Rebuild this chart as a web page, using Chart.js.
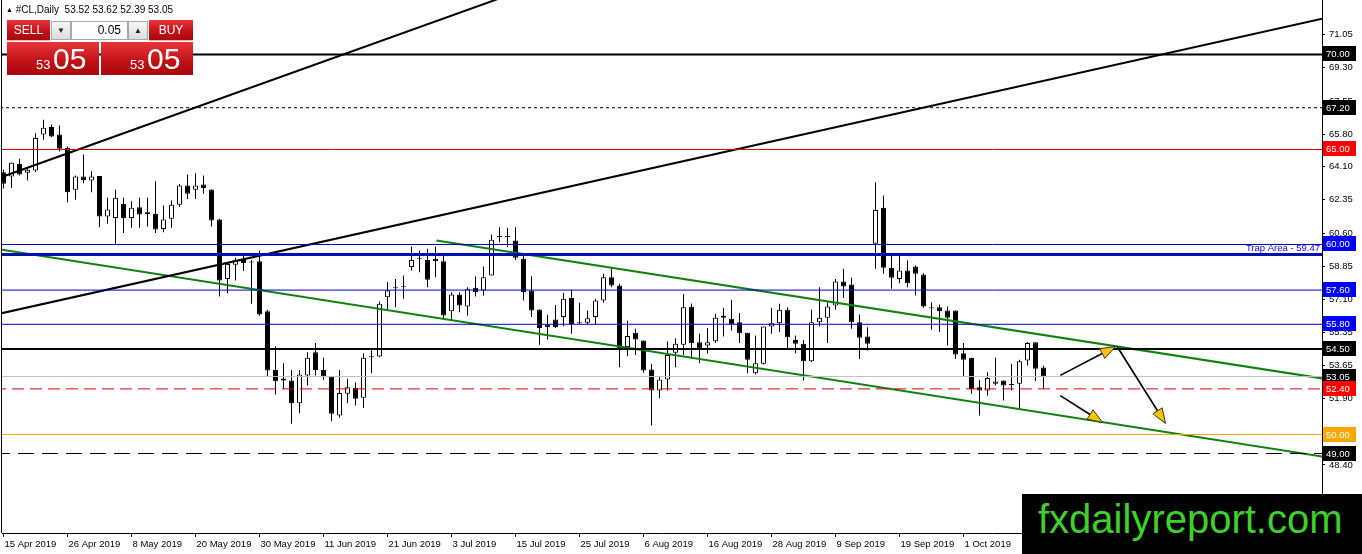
<!DOCTYPE html>
<html>
<head>
<meta charset="utf-8">
<script src="https://cdn.jsdelivr.net/npm/chart.js@4.4.1/dist/chart.umd.min.js"></script>
<style>
html,body{margin:0;padding:0;background:#fff;overflow:hidden;}
#wrap{position:relative;width:1362px;height:554px;font-family:"Liberation Sans",Arial,sans-serif;}
#c{position:absolute;left:0;top:0;}
#hdr{position:absolute;left:6px;top:4px;font-size:10px;line-height:12px;color:#000;white-space:pre;}
#hdr .tri{font-size:7px;vertical-align:1px;}
.red{position:absolute;background:linear-gradient(#e8353a,#c01016 60%,#a8080d);color:#fff;box-sizing:border-box;}
.btn{top:20px;height:21px;font-size:12px;line-height:21px;text-align:center;border-bottom:1px solid #f3b0b0;}
.gray{position:absolute;top:21px;height:19px;width:20px;box-sizing:border-box;background:linear-gradient(#f6f6f6,#dcdcdc);border:1px solid #a8a8a8;font-size:8px;line-height:17px;text-align:center;color:#222;}
#lot{position:absolute;top:21px;left:71px;width:57px;height:19px;box-sizing:border-box;background:#fff;border:1px solid #a8a8a8;font-size:12px;line-height:17px;text-align:right;padding-right:6px;color:#000;}
.big{top:42px;height:33px;width:92px;}
.big .s{position:absolute;left:29px;top:16px;font-size:13px;line-height:13px;}
.big .b{position:absolute;left:46px;top:2px;font-size:30px;line-height:30px;}
#wm{position:absolute;left:1022px;top:494px;width:340px;height:60px;background:#000;}
#wm span{position:absolute;left:16px;top:5px;font-size:40px;line-height:40px;color:#3dd12b;white-space:nowrap;}
</style>
</head>
<body>
<div id="wrap">
  <canvas id="c" width="1362" height="554"></canvas>
  <div id="hdr"></div>
  <div class="red btn" style="left:7px;width:43px;">SELL</div>
  <div class="gray" style="left:51px;">&#9660;</div>
  <div id="lot">0.05</div>
  <div class="gray" style="left:128px;">&#9650;</div>
  <div class="red btn" style="left:149px;width:44px;">BUY</div>
  <div class="red big" style="left:7px;"><span class="s" id="sellS"></span><span class="b" id="sellB"></span></div>
  <div class="red big" style="left:101px;"><span class="s" id="buyS"></span><span class="b" id="buyB"></span></div>
  <div id="wm"><span>fxdailyreport.com</span></div>
</div>
<script>
// ---------------- DATA ----------------
const symbolName = "#CL,Daily";
const lotSize = "0.05";

const opens = [63.80,63.58,64.25,63.77,63.89,65.79,66.18,65.79,65.09,62.88,
63.58,63.37,63.60,61.47,61.39,62.14,61.40,61.96,61.70,61.61,
60.82,61.35,62.09,63.11,62.88,63.16,62.90,61.32,58.19,58.93,
59.25,59.10,59.12,56.49,53.40,52.95,52.84,51.65,53.11,54.33,
53.40,53.05,51.00,52.14,52.46,51.93,54.07,54.11,57.23,57.70,
57.75,58.81,59.22,59.19,59.25,59.12,56.49,57.37,56.74,57.72,
57.58,58.37,60.40,60.44,60.21,59.25,57.58,56.58,55.77,56.05,
56.18,57.18,55.88,55.88,56.18,57.05,58.28,57.84,54.60,55.35,
54.95,53.42,52.32,52.89,54.30,54.72,56.72,54.86,54.68,54.91,
56.25,56.09,55.91,55.35,53.23,53.72,55.68,55.86,56.56,54.98,
54.77,53.86,55.91,56.14,56.79,58.05,57.89,55.91,55.16,60.04,
61.93,58.77,58.19,58.63,58.84,58.42,56.67,56.70,56.53,56.53,
54.28,54.04,52.49,52.32,52.67,52.84,52.63,52.67,53.89,54.86,
53.52];
const highs = [63.95,64.32,64.51,64.07,65.86,66.56,66.32,66.26,65.16,63.63,
64.74,63.86,63.60,62.46,62.88,62.46,62.28,62.46,62.46,63.33,
62.05,62.32,63.19,63.68,63.75,63.63,62.90,61.35,59.07,59.30,
59.42,59.19,59.68,56.56,54.63,53.75,53.40,53.40,54.33,54.81,
54.04,53.05,53.40,52.93,52.75,54.28,54.46,57.00,58.02,58.19,
58.37,59.89,59.68,59.77,59.89,59.47,57.49,57.49,57.75,58.32,
58.84,60.53,60.91,60.88,60.91,59.51,58.33,56.58,56.30,56.82,
57.46,57.63,56.93,56.53,57.14,58.46,58.81,57.93,56.00,55.56,
54.95,53.72,53.02,54.89,55.07,57.40,56.90,55.30,55.61,56.35,
56.67,57.09,56.39,55.35,55.21,55.68,56.67,56.88,56.70,55.21,
54.98,56.56,57.75,56.96,58.18,58.72,58.25,56.32,55.65,63.28,
62.58,59.47,59.47,59.16,58.89,58.49,56.96,56.84,56.74,56.53,
54.81,54.04,52.88,53.28,54.04,52.84,53.72,53.93,54.86,54.86,
53.62];
const lows = [62.95,62.98,63.63,63.37,63.81,65.51,65.65,64.91,62.23,62.35,
63.23,62.75,60.91,61.09,60.04,60.60,60.88,60.88,60.95,60.60,
60.65,60.88,61.97,62.40,62.40,62.67,60.95,57.26,57.44,58.11,
58.60,56.88,56.25,53.05,52.11,52.40,50.56,51.12,52.58,53.11,
52.88,50.70,50.88,51.65,51.53,51.40,53.23,54.07,56.61,56.70,
57.14,58.63,58.54,57.75,58.28,56.09,56.03,56.44,56.26,57.26,
57.32,58.37,60.12,59.86,59.19,57.05,56.18,54.72,55.00,55.60,
55.70,55.30,55.82,55.77,55.77,56.93,57.75,53.54,54.12,54.19,
53.25,50.47,51.91,52.32,53.54,54.19,54.00,53.75,54.25,54.81,
55.16,55.47,54.81,53.23,53.16,53.68,55.30,55.39,54.51,54.28,
52.84,53.81,55.68,54.81,56.56,57.19,55.56,53.98,54.42,58.72,
58.46,57.67,57.96,57.75,57.32,56.67,55.51,55.39,54.68,53.98,
53.02,52.14,51.00,52.05,52.58,51.79,52.32,51.40,53.63,52.81,
52.39];
const closes = [63.20,64.30,63.68,63.93,65.61,66.14,65.68,65.04,62.75,63.58,
63.40,63.58,61.47,61.84,62.46,61.40,61.93,61.58,61.61,60.79,
61.32,62.09,63.11,62.67,63.11,62.98,61.26,58.11,58.98,59.19,
59.02,59.05,56.32,53.37,52.80,52.84,51.65,53.16,54.04,53.40,
53.05,51.09,52.18,52.49,51.88,54.04,54.09,56.88,57.58,57.72,
57.78,59.19,59.25,58.14,59.12,56.26,57.37,56.79,57.67,57.49,
58.28,60.25,60.44,60.40,59.30,57.49,56.53,55.60,55.65,55.65,
57.14,55.82,55.86,56.12,57.05,58.28,57.84,54.51,55.18,55.00,
53.37,52.32,52.89,54.19,54.77,56.70,54.80,54.51,54.86,56.14,
56.14,55.79,55.33,53.93,53.75,55.68,55.86,56.56,55.12,54.77,
53.86,55.91,56.14,56.74,58.05,57.79,55.91,55.09,54.77,61.82,
58.77,58.25,58.63,57.96,58.46,56.74,56.65,56.49,56.14,54.21,
53.93,52.40,52.32,52.98,52.79,52.58,52.61,53.86,54.81,53.46,
53.05];

// date labels shown every 8 bars, starting at bar 0
const xTickBars = [0,8,16,24,32,40,48,56,64,72,80,88,96,104,112,120];
const xTickLabels = ["15 Apr 2019","26 Apr 2019","8 May 2019","20 May 2019","30 May 2019","11 Jun 2019",
  "21 Jun 2019","3 Jul 2019","15 Jul 2019","25 Jul 2019","6 Aug 2019","16 Aug 2019","28 Aug 2019",
  "9 Sep 2019","19 Sep 2019","1 Oct 2019"];
const yTickValues = [71.05,69.30,67.55,65.80,64.10,62.35,60.60,58.85,57.10,55.35,53.65,51.90,50.15,48.40,46.65];

// horizontal levels
const levelValues = [70.00,67.20,65.00,60.00,59.47,57.60,55.80,54.50,53.05,52.40,50.00,49.00];
const trapLevel = 59.47;
const trapText = "Trap Area - 59.47";

// trend lines: [bar, price] anchors
const trendStart = [[-0.375,63.53],[-0.375,56.37],[54.125,60.21],[-0.375,59.74]];
const trendEnd   = [[70.0,74.16],[164.875,71.89],[164.875,52.95],[164.875,48.84]];

// arrows: [bar, price]
const arrowFrom = [[132.1,53.11],[132.1,52.05],[139.2,54.63]];
const arrowTo   = [[139.0,54.63],[137.4,50.63],[145.25,50.58]];

// ---------------- STYLES ----------------
const levelColors = ['#000000','#000000','#e00000','#0000c0','#0010b0','#0000c0','#0000c0','#000000','#c0c0c0','#e00000','#ffa500','#000000'];
const levelWidths = [2,1,1,1,3,1,1,2,1,1,1,1];
const levelDash   = [[],[3,3],[],[],[],[],[],[],[],[12,6],[],[16,8]];
const boxColors   = ['#000000','#000000','#ff0000','#0000ff',null,'#0000ff','#0000ff','#000000','#000000','#ff0000','#ffa500','#000000'];
const trendColors = ['#000000','#000000','#108010','#108010'];

const XMIN = -0.1875, XMAX = 164.8125;
const YMAX = 72.8684, YMIN = 44.8158;

// ---------------- HTML TEXT ----------------
const last = closes.length - 1;
document.getElementById('hdr').innerHTML = '<span class="tri">&#9650;</span> ' + symbolName + '  ' +
  [opens[last],highs[last],lows[last],closes[last]].map(v=>v.toFixed(2)).join(' ');
const px = closes[last].toFixed(2).split('.');
document.getElementById('sellS').textContent = px[0];
document.getElementById('sellB').textContent = px[1];
document.getElementById('buyS').textContent = px[0];
document.getElementById('buyB').textContent = px[1];
document.getElementById('lot').textContent = lotSize;

// ---------------- CHART ----------------
Chart.defaults.font.family = '"Liberation Sans", Arial, sans-serif';
Chart.defaults.font.size = 9.5;
Chart.defaults.color = '#000';

const idx = closes.map((_, i) => i);
const datasets = [];

levelValues.forEach((v, k) => {
  datasets.push({
    type: 'line', order: 0,
    data: [{x: XMIN - 1, y: v}, {x: XMAX + 1, y: v}],
    borderColor: levelColors[k], borderWidth: levelWidths[k], borderDash: levelDash[k],
    pointRadius: 0, tension: 0, fill: false
  });
});
trendStart.forEach((s, k) => {
  datasets.push({
    type: 'line', order: 0,
    data: [{x: s[0], y: s[1]}, {x: trendEnd[k][0], y: trendEnd[k][1]}],
    borderColor: trendColors[k], borderWidth: 2,
    pointRadius: 0, tension: 0, fill: false
  });
});
datasets.push({
  type: 'bar', order: 2, grouped: false,
  data: idx.map(i => ({x: i, y: [lows[i], highs[i]]})),
  backgroundColor: '#000', borderWidth: 0, maxBarThickness: 1, minBarLength: 1
});
datasets.push({
  type: 'bar', order: 1, grouped: false,
  data: idx.map(i => ({x: i, y: [opens[i], closes[i]]})),
  backgroundColor: ctx => (closes[ctx.dataIndex] >= opens[ctx.dataIndex] ? '#ffffff' : '#000000'),
  borderColor: '#000', borderWidth: 1, borderSkipped: false, maxBarThickness: 5, minBarLength: 1
});

const overlay = {
  id: 'overlay',
  afterDatasetsDraw(chart) {
    const {ctx, scales: {x, y}, chartArea: a} = chart;
    ctx.save();
    ctx.beginPath(); ctx.rect(a.left, a.top, a.right - a.left, a.bottom - a.top); ctx.clip();
    // arrows
    arrowFrom.forEach((f, k) => {
      const t = arrowTo[k];
      const x1 = x.getPixelForValue(f[0]), y1 = y.getPixelForValue(f[1]);
      const x2 = x.getPixelForValue(t[0]), y2 = y.getPixelForValue(t[1]);
      const ang = Math.atan2(y2 - y1, x2 - x1);
      const hl = 15, hw = 5.5;
      const bx = x2 - hl * Math.cos(ang), by = y2 - hl * Math.sin(ang);
      ctx.strokeStyle = '#000'; ctx.lineWidth = 1.6;
      ctx.beginPath(); ctx.moveTo(x1, y1); ctx.lineTo(bx, by); ctx.stroke();
      ctx.beginPath(); ctx.moveTo(x2, y2);
      ctx.lineTo(bx + hw * Math.sin(ang), by - hw * Math.cos(ang));
      ctx.lineTo(bx - hw * Math.sin(ang), by + hw * Math.cos(ang));
      ctx.closePath();
      ctx.fillStyle = '#f7c600'; ctx.fill();
      ctx.lineWidth = 1; ctx.strokeStyle = '#333'; ctx.stroke();
    });
    // trap area text
    ctx.font = '9.5px "Liberation Sans", Arial, sans-serif';
    ctx.fillStyle = '#0000ff'; ctx.textAlign = 'right'; ctx.textBaseline = 'bottom';
    ctx.fillText(trapText, a.right - 2, y.getPixelForValue(trapLevel) - 1);
    ctx.restore();
  },
  afterDraw(chart) {
    const {ctx, scales: {y}, chartArea: a} = chart;
    ctx.save();
    ctx.fillStyle = '#000';
    ctx.fillRect(1, 0, 1, a.bottom);
    ctx.font = '9.5px "Liberation Sans", Arial, sans-serif';
    ctx.textAlign = 'left'; ctx.textBaseline = 'middle';
    levelValues.forEach((v, k) => {
      if (!boxColors[k]) return;
      const py = Math.round(y.getPixelForValue(v));
      ctx.fillStyle = boxColors[k];
      ctx.fillRect(a.right + 1, py - 8, 33, 15);
      ctx.fillStyle = '#ffffff';
      ctx.fillText(v.toFixed(2), a.right + 4, py + 0.5);
    });
    ctx.restore();
  }
};

new Chart(document.getElementById('c'), {
  type: 'bar',
  data: { datasets },
  options: {
    responsive: false, animation: false, devicePixelRatio: 1,
    layout: { padding: { left: 2, top: 0, right: 0, bottom: 0 } },
    plugins: { legend: { display: false }, tooltip: { enabled: false } },
    scales: {
      x: {
        type: 'linear', position: 'bottom', min: XMIN, max: XMAX, offset: false,
        grid: { display: true, drawOnChartArea: false, drawTicks: true, tickLength: 4, color: '#000', offset: false },
        border: { display: true, color: '#000', width: 1 },
        ticks: { autoSkip: false, maxRotation: 0, minRotation: 0, align: 'start', labelOffset: 1, padding: 2,
          callback: (v, i) => xTickLabels[i] },
        afterBuildTicks: s => { s.ticks = xTickBars.map(v => ({ value: v })); },
        afterFit: s => { s.height = 21; s.paddingLeft = 0; s.paddingRight = 0; }
      },
      y: {
        type: 'linear', position: 'right', min: YMIN, max: YMAX,
        grid: { display: true, drawOnChartArea: false, drawTicks: true, tickLength: 3, color: '#000' },
        border: { display: true, color: '#000', width: 1 },
        ticks: { autoSkip: false, padding: 4, callback: v => Number(v).toFixed(2) },
        afterBuildTicks: s => { s.ticks = yTickValues.map(v => ({ value: v })); },
        afterFit: s => { s.width = 40; s.paddingTop = 0; s.paddingBottom = 0; }
      }
    }
  },
  plugins: [overlay]
});
</script>
</body>
</html>
